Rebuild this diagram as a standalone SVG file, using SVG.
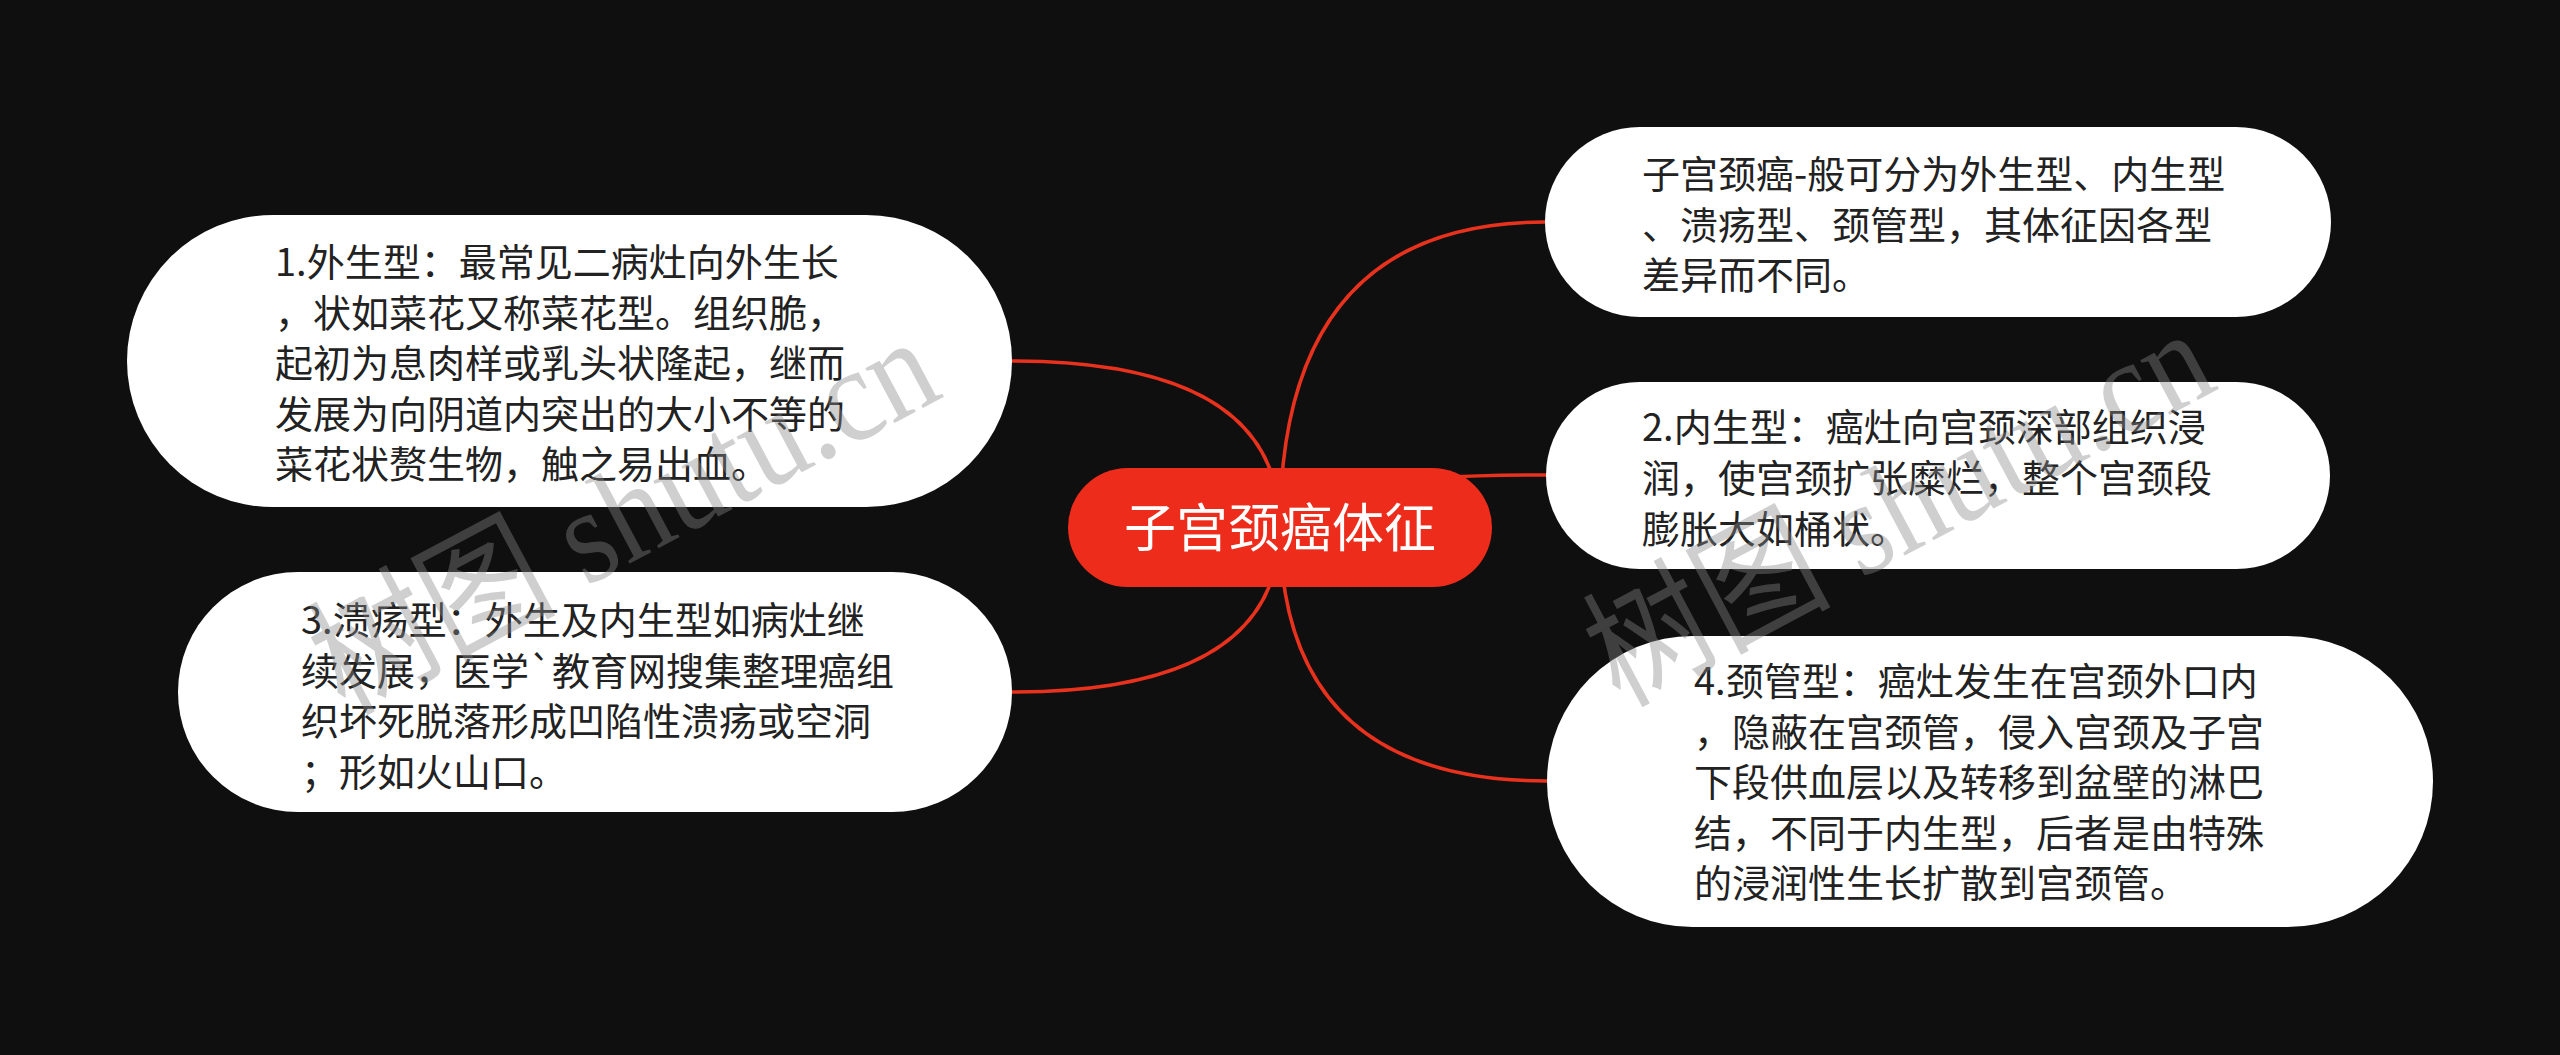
<svg xmlns="http://www.w3.org/2000/svg" width="2560" height="1055" viewBox="0 0 2560 1055">
<style>
.bg{fill:#0f0f0f}
.node{fill:#ffffff}
.root{fill:#ee2c1b}
.link{fill:none;stroke:#e8321e;stroke-width:3.5}
.t{font-family:"Noto Sans CJK SC","Noto Sans",sans-serif;font-size:38px;fill:#222222}
.rt{font-family:"Noto Sans CJK SC","Noto Sans",sans-serif;font-size:52px;fill:#ffffff;text-anchor:middle}
.wm{font-family:"Liberation Serif","Noto Sans CJK SC",serif;font-size:135px;fill:#888888;opacity:0.4}
</style>
<rect class="bg" x="0" y="0" width="2560" height="1055"/>
<g id="connectors">
<path class="link" d="M1012 361 Q1280 361 1280 527"/>
<path class="link" d="M1012 692 Q1280 692 1280 527"/>
<path class="link" d="M1545 222 Q1280 222 1280 527"/>
<path class="link" d="M1546 475 Q1280 475 1280 527"/>
<path class="link" d="M1547 781 Q1280 781 1280 527"/>
</g>
<g id="root">
<rect class="root" x="1068" y="468" width="424" height="119" rx="59.5"/>
<text class="rt" x="1280" y="547">子宫颈癌体征</text>
</g>
<g id="node1">
<rect class="node" x="127" y="215" width="885" height="292" rx="146"/>
<text class="t"><tspan x="275" y="276">1.外生型：最常见二病灶向外生长</tspan><tspan x="275" y="326.5">，状如菜花又称菜花型。组织脆，</tspan><tspan x="275" y="377">起初为息肉样或乳头状隆起，继而</tspan><tspan x="275" y="427.5">发展为向阴道内突出的大小不等的</tspan><tspan x="275" y="478">菜花状赘生物，触之易出血。</tspan></text>
</g>
<g id="node3">
<rect class="node" x="178" y="572" width="834" height="240" rx="120"/>
<text class="t"><tspan x="301" y="634">3.溃疡型：外生及内生型如病灶继</tspan><tspan x="301" y="684.5">续发展，医学`教育网搜集整理癌组</tspan><tspan x="301" y="735">织坏死脱落形成凹陷性溃疡或空洞</tspan><tspan x="301" y="785.5">；形如火山口。</tspan></text>
</g>
<g id="nodeR1">
<rect class="node" x="1545" y="127" width="786" height="190" rx="95"/>
<text class="t"><tspan x="1642" y="188">子宫颈癌-般可分为外生型、内生型</tspan><tspan x="1642" y="238.5">、溃疡型、颈管型，其体征因各型</tspan><tspan x="1642" y="289">差异而不同。</tspan></text>
</g>
<g id="nodeR2">
<rect class="node" x="1546" y="382" width="784" height="187" rx="93.5"/>
<text class="t"><tspan x="1642" y="441">2.内生型：癌灶向宫颈深部组织浸</tspan><tspan x="1642" y="492">润，使宫颈扩张糜烂，整个宫颈段</tspan><tspan x="1642" y="543">膨胀大如桶状。</tspan></text>
</g>
<g id="nodeR4">
<rect class="node" x="1547" y="636" width="886" height="291" rx="145.5"/>
<text class="t"><tspan x="1694" y="695">4.颈管型：癌灶发生在宫颈外口内</tspan><tspan x="1694" y="745.5">，隐蔽在宫颈管，侵入宫颈及子宫</tspan><tspan x="1694" y="796">下段供血层以及转移到盆壁的淋巴</tspan><tspan x="1694" y="846.5">结，不同于内生型，后者是由特殊</tspan><tspan x="1694" y="897">的浸润性生长扩散到宫颈管。</tspan></text>
</g>
<g id="watermarks">
<text class="wm" transform="translate(345,715) rotate(-28)" textLength="680" lengthAdjust="spacingAndGlyphs">树图 shutu.cn</text>
<text class="wm" transform="translate(1620,707) rotate(-28)" textLength="680" lengthAdjust="spacingAndGlyphs">树图 shutu.cn</text>
</g>
</svg>
